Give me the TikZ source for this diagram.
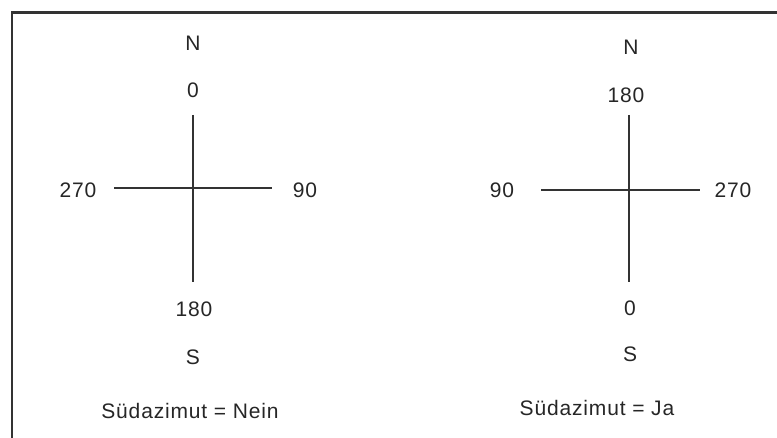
\documentclass[tikz,border=0pt]{standalone}
\usepackage{fontspec}
\setmainfont[LetterSpace=4]{Liberation Sans}
\begin{document}
\begin{tikzpicture}[x=1pt,y=-1pt,
  lbl/.style={font=\fontsize{21}{25}\selectfont, inner sep=0pt, text=black!85},
  axis/.style={line width=2.2pt, draw=black!80},
  frame/.style={line width=2.5pt, draw=black!80}]
\clip (0,0) rectangle (777,438);
\draw[frame] (12,12.5) rectangle (800,470);
% left compass
\node[lbl] (lN) at (193,43) {N};
\node[lbl] (l0) at (193,90) {0};
\node[lbl] (l180) at (194,309) {180};
\node[lbl] (lS) at (193,357) {S};
\node[lbl] (lcap) at (190,411) {Südazimut = Nein};
\node[lbl] (l270) at (78,190) {270};
\node[lbl] (l90) at (305,190) {90};
\coordinate (lt) at (193,115);
\coordinate (lb) at (193,282);
\coordinate (ll) at (114,188);
\coordinate (lr) at (272,188);
\draw[axis] (lt) -- (lb);
\draw[axis] (ll) -- (lr);
% right compass
\node[lbl] (rN) at (631,47) {N};
\node[lbl] (r180) at (626,95) {180};
\node[lbl] (r0) at (630,308) {0};
\node[lbl] (rS) at (630,354) {S};
\node[lbl] (rcap) at (597,408) {Südazimut = Ja};
\node[lbl] (r90) at (502,190) {90};
\node[lbl] (r270) at (733,190) {270};
\coordinate (rt) at (629,115);
\coordinate (rb) at (629,282);
\coordinate (rl) at (541,190);
\coordinate (rr) at (700,190);
\draw[axis] (rt) -- (rb);
\draw[axis] (rl) -- (rr);
\end{tikzpicture}
\end{document}
